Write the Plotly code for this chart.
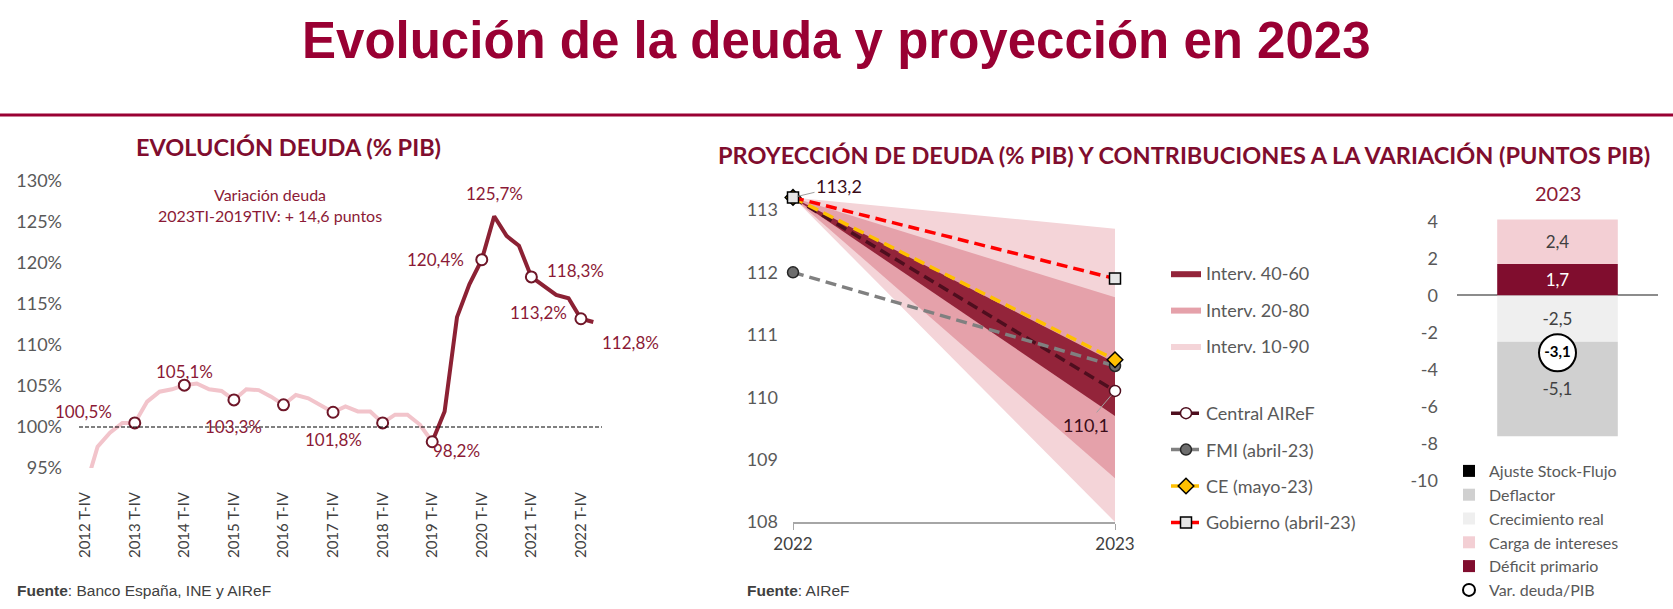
import plotly.graph_objects as go

W, H = 1673, 609
FONT = "Lato"
RED_TITLE = "#990033"
RED_TXT = "#8B1A36"
GREY_TXT = "#595959"

# --- left panel: deuda trimestral, 2012 T-IV .. 2023 T-I (% PIB) ---
debt = [92.5, 97.6, 99.3, 100.5, 100.5, 103.1, 104.3, 104.6, 105.1, 105.3,
        104.6, 104.4, 103.3, 104.6, 104.5, 103.7, 102.7, 103.9, 103.5, 102.6,
        101.8, 102.5, 101.9, 101.9, 100.5, 101.5, 101.5, 100.3, 98.2, 101.9,
        113.4, 117.4, 120.4, 125.7, 123.3, 122.1, 118.3, 117.2, 116.1, 115.7,
        113.2, 112.8]
year_labels = ["2012 T-IV", "2013 T-IV", "2014 T-IV", "2015 T-IV", "2016 T-IV",
               "2017 T-IV", "2018 T-IV", "2019 T-IV", "2020 T-IV", "2021 T-IV",
               "2022 T-IV"]
split_q = 28                      # 2019 T-IV, start of dark segment
circle_q = [4, 8, 12, 16, 20, 24, 28, 32, 36, 40]
label_q = [4, 8, 12, 20, 28, 32, 33, 36, 40, 41]
label_shift = [(-51, 11), (0, 14), (0, -27), (0, -27), (24, -9),
               (-46, 0), (0, 23), (44, 6), (-42, 6), (37, -20)]
ref_level = 100
y_ticks_left = [95, 100, 105, 110, 115, 120, 125, 130]

# --- middle panel: proyeccion 2022-2023 ---
years = [2022, 2023]
central = [113.2, 110.1]
fmi = [112.0, 110.5]
ce = [113.2, 110.6]
gobierno = [113.2, 111.9]
band_10_90 = ([113.2, 108.0], [113.2, 112.7])
band_20_80 = ([113.2, 108.7], [113.2, 111.6])
band_40_60 = ([113.2, 109.7], [113.2, 110.55])

# --- right panel: contribuciones 2023 (puntos PIB) ---
comp_names = ["Déficit primario", "Carga de intereses", "Crecimiento real",
              "Deflactor", "Ajuste Stock-Flujo"]
comp_values = [1.7, 2.4, -2.5, -5.1, 0.0]
comp_colors = ["#800D2E", "#F3CFD4", "#EFEFEF", "#D0D0D0", "#000000"]
comp_text_colors = ["white", "#404040", "#404040", "#404040", "#404040"]
comp_rank = [5, 4, 3, 2, 1]
var_deuda = -3.1
y_ticks_right = [4, 2, 0, -2, -4, -6, -8, -10]


def fmt(v, suffix=""):
    return f"{v:.1f}".replace(".", ",") + suffix


def paper_text(text, px, py, size, color, family=FONT, xanchor="center"):
    # free text placed in pixel coordinates of the 1673x609 page
    return dict(text=text, x=px / W, y=1 - py / H, xref="paper", yref="paper",
                xanchor=xanchor, yanchor="middle", showarrow=False,
                font=dict(family=family, size=size, color=color))


fig = go.Figure()

# left panel
q_index = list(range(len(debt)))
fig.add_trace(go.Scatter(x=q_index[:split_q + 1], y=debt[:split_q + 1], mode="lines",
                         line=dict(color="#F2C4CB", width=4), showlegend=False,
                         xaxis="x", yaxis="y", hoverinfo="skip"))
fig.add_trace(go.Scatter(x=q_index[split_q:], y=debt[split_q:], mode="lines",
                         line=dict(color="#8C2134", width=4), showlegend=False,
                         xaxis="x", yaxis="y", hoverinfo="skip"))
fig.add_trace(go.Scatter(x=circle_q, y=[debt[i] for i in circle_q], mode="markers",
                         marker=dict(size=11, color="white", line=dict(color="#6E1628", width=2)),
                         showlegend=False, cliponaxis=False, xaxis="x", yaxis="y"))

# middle panel: fan bands (widest first so the darker ones sit on top)
bands = [("Interv. 10-90", band_10_90, "#F4D4D8", 3),
         ("Interv. 20-80", band_20_80, "#E5A1AA", 2),
         ("Interv. 40-60", band_40_60, "#93243A", 1)]
for name, (lo, hi), col, rk in bands:
    fig.add_trace(go.Scatter(x=years + years[::-1], y=hi + lo[::-1], fill="toself",
                             fillcolor=col, mode="lines", line=dict(width=0),
                             name=name, legend="legend", legendgroup=name, legendrank=rk,
                             xaxis="x2", yaxis="y2", hoverinfo="skip"))

lines = [("Central AIReF", central, "#4E0E1E", "circle", "white", "#4E0E1E", 11),
         ("FMI (abril-23)", fmi, "#808080", "circle", "#6D6D6D", "#262626", 11),
         ("CE (mayo-23)", ce, "#FFC000", "diamond", "#FFC000", "#000000", 12),
         ("Gobierno (abril-23)", gobierno, "#FF0000", "square", "#E6E6E6", "#000000", 11)]
for name, vals, col, sym, mfill, mline, msize in lines:
    fig.add_trace(go.Scatter(x=years, y=vals, mode="lines+markers", name=name,
                             line=dict(color=col, width=3.5, dash="11px,6px"),
                             marker=dict(symbol=sym, size=msize, color=mfill,
                                         line=dict(color=mline, width=1.5)),
                             legend="legend2", legendgroup=name, cliponaxis=False,
                             xaxis="x2", yaxis="y2"))

# right panel: stacked contributions
for name, v, col, tcol, rk in zip(comp_names, comp_values, comp_colors, comp_text_colors, comp_rank):
    fig.add_trace(go.Bar(x=[0], y=[v], width=0.6, name=name, marker=dict(color=col, line=dict(width=0)),
                         text=[fmt(v) if v != 0 else ""], textposition="inside",
                         insidetextanchor="middle", textangle=0,
                         textfont=dict(family=FONT, size=17, color=tcol),
                         legend="legend3", legendrank=rk, xaxis="x3", yaxis="y3"))
fig.add_trace(go.Scatter(x=[0], y=[var_deuda], mode="markers", name="Var. deuda/PIB",
                         marker=dict(size=37, color="white", line=dict(color="black", width=2)),
                         legend="legend3", legendrank=6, cliponaxis=False, xaxis="x3", yaxis="y3"))
fig.add_trace(go.Scatter(x=[0], y=[var_deuda], mode="text", text=["<b>" + fmt(var_deuda) + "</b>"],
                         textfont=dict(family=FONT, size=15, color="black"), showlegend=False,
                         xaxis="x3", yaxis="y3"))

ann = [
    paper_text("<b>Evolución de la deuda y proyección en 2023</b>", 836, 40, 51, RED_TITLE,
               family="Liberation Sans, Arial"),
    paper_text("<b>EVOLUCIÓN DEUDA (% PIB)</b>", 288, 147, 23.5, "#800D2E"),
    paper_text("<b>PROYECCIÓN DE DEUDA (% PIB) Y CONTRIBUCIONES A LA VARIACIÓN (PUNTOS PIB)</b>",
               1184, 155, 23.5, "#800D2E"),
    paper_text("2023", 1558, 193, 20, RED_TXT),
    paper_text("Variación deuda<br>2023TI-2019TIV: + 14,6 puntos", 270, 205, 16, RED_TXT),
    paper_text("<b>Fuente</b>: Banco España, INE y AIReF", 15, 590, 15.5, "#404040",
               family="Liberation Sans, Arial", xanchor="left"),
    paper_text("<b>Fuente</b>: AIReF", 745, 590, 15.5, "#404040",
               family="Liberation Sans, Arial", xanchor="left"),
]
for q, (dx, dy) in zip(label_q, label_shift):
    ann.append(dict(text=fmt(debt[q], "%"), x=q, y=debt[q], xref="x", yref="y", showarrow=False,
                    xshift=dx, yshift=dy, font=dict(family=FONT, size=17, color=RED_TXT)))
ann.append(dict(text=fmt(central[0]), x=years[0], y=central[0], xref="x2", yref="y2",
                showarrow=True, arrowhead=0, arrowwidth=1, arrowcolor="#A0A0A0",
                ax=46, ay=-11, standoff=4, font=dict(family=FONT, size=18, color="#3A0C18")))
ann.append(dict(text=fmt(central[1]), x=years[1], y=central[1], xref="x2", yref="y2",
                showarrow=True, arrowhead=0, arrowwidth=1, arrowcolor="#A0A0A0",
                ax=-29, ay=34, standoff=6, font=dict(family=FONT, size=18, color="#3A0C18")))

shapes = [
    dict(type="line", xref="paper", yref="paper", x0=0, x1=1, y0=1 - 115 / H, y1=1 - 115 / H,
         line=dict(color=RED_TITLE, width=3)),
    dict(type="line", xref="x domain", yref="y", x0=0, x1=1, y0=ref_level, y1=ref_level,
         line=dict(color="black", width=1, dash="4px,2px")),
]

tick_font = dict(family=FONT, size=18, color=GREY_TXT)
legend_font = dict(family=FONT, size=18, color=GREY_TXT)

fig.update_layout(
    width=W, height=H, margin=dict(l=0, r=0, t=0, b=0, autoexpand=False),
    paper_bgcolor="white", plot_bgcolor="white",
    barmode="relative", separators=",.",
    annotations=ann, shapes=shapes,
    xaxis=dict(domain=[79 / W, 602 / W], range=[-0.5, 41.7], anchor="y", automargin=False,
               tickvals=list(range(0, 41, 4)), ticktext=year_labels, tickangle=-90,
               showgrid=False, zeroline=False, showline=False, ticklabelstandoff=20,
               tickfont=dict(family=FONT, size=15, color="#404040")),
    yaxis=dict(domain=[1 - 468 / H, 1 - 181 / H], range=[95, 130], anchor="x", automargin=False,
               tickvals=y_ticks_left, ticktext=[f"{v}%" for v in y_ticks_left],
               showgrid=False, zeroline=False, ticklabelstandoff=16, tickfont=tick_font),
    xaxis2=dict(domain=[793 / W, 1115 / W], range=[2022, 2023], anchor="y2", automargin=False,
                tickvals=years, ticktext=[str(y) for y in years],
                showgrid=False, zeroline=False, showline=True, linecolor="#A6A6A6", linewidth=1.5,
                ticks="outside", ticklen=6, tickcolor="#A6A6A6",
                tickfont=dict(family=FONT, size=17, color="#404040")),
    yaxis2=dict(domain=[1 - 522 / H, 1 - 185 / H], range=[108, 113.4], anchor="x2", automargin=False,
                tickvals=[108, 109, 110, 111, 112, 113], showgrid=False, zeroline=False,
                ticklabelstandoff=14, tickfont=tick_font),
    xaxis3=dict(domain=[1457 / W, 1658 / W], range=[-0.5, 0.5], anchor="y3", automargin=False,
                showticklabels=False, showgrid=False, zeroline=False),
    yaxis3=dict(domain=[1 - 490 / H, 1 - 212 / H], range=[-10.5, 4.5], anchor="x3", automargin=False,
                tickvals=y_ticks_right, ticktext=[str(v) for v in y_ticks_right],
                showgrid=False, zeroline=True, zerolinecolor="#8C8C8C", zerolinewidth=1.5,
                ticklabelstandoff=18, tickfont=tick_font),
    legend=dict(x=1166 / W, y=1 - 255 / H, xanchor="left", yanchor="top", font=legend_font,
                traceorder="grouped", tracegroupgap=10, bgcolor="rgba(0,0,0,0)"),
    legend2=dict(x=1166 / W, y=1 - 395 / H, xanchor="left", yanchor="top", font=legend_font,
                 traceorder="grouped", tracegroupgap=10, bgcolor="rgba(0,0,0,0)"),
    legend3=dict(x=1449 / W, y=1 - 454 / H, xanchor="left", yanchor="top",
                 font=dict(family=FONT, size=16, color=GREY_TXT),
                 traceorder="normal", itemsizing="constant", tracegroupgap=0,
                 bgcolor="rgba(0,0,0,0)"),
    hovermode=False,
)

# the page must start at the very corner, like the reference image
fig.write_html("out.html", config={"displayModeBar": False},
               post_script="document.body.style.margin='0px';")
